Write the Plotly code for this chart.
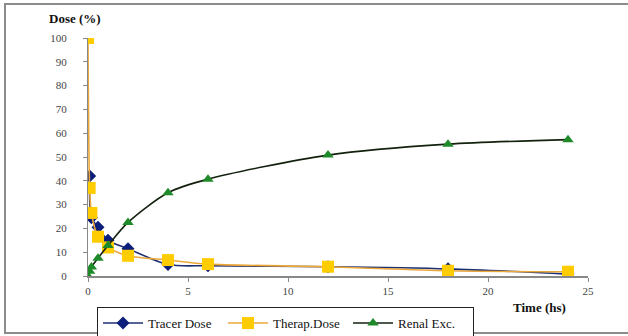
import plotly.graph_objects as go

# Data
time_tracer = [0.083, 0.17, 0.5, 1, 2, 4, 6, 12, 18, 24]
tracer_dose = [42, 24.5, 20.5, 15, 11.5, 4.8, 4.3, 3.9, 3.0, 0.8]

time_therap = [0, 0.083, 0.17, 0.5, 1, 2, 4, 6, 12, 18, 24]
therap_dose = [100, 37, 26.5, 16.5, 12, 8.5, 6.7, 5, 3.9, 2.2, 1.8]

time_renal = [0, 0.083, 0.17, 0.5, 1, 2, 4, 6, 12, 18, 24]
renal_exc = [0, 2, 3.8, 7.5, 12.8, 22.5, 35, 40.7, 50.8, 55.4, 57.3]

x_ticks = [0, 5, 10, 15, 20, 25]
y_ticks = [0, 10, 20, 30, 40, 50, 60, 70, 80, 90, 100]

FONT = "Liberation Serif"

fig = go.Figure()
fig.add_trace(go.Scatter(
    x=time_tracer, y=tracer_dose, name="Tracer Dose", mode="lines+markers",
    line=dict(color="#1c2f73", width=1.6, shape="spline", smoothing=0.8),
    marker=dict(symbol="diamond", size=10, color="#0b1f7a"),
))
fig.add_trace(go.Scatter(
    x=time_therap, y=therap_dose, name="Therap.Dose", mode="lines+markers",
    line=dict(color="#eba83a", width=1.6, shape="spline", smoothing=0.8),
    marker=dict(symbol="square", size=12, color="#ffcc00"),
))
fig.add_trace(go.Scatter(
    x=time_renal, y=renal_exc, name="Renal Exc.", mode="lines+markers",
    line=dict(color="#13220f", width=1.6, shape="spline", smoothing=0.8),
    marker=dict(symbol="triangle-up", size=10, color="#1f8a2a"),
))

fig.update_layout(
    width=628, height=336,
    margin=dict(l=88, r=40, t=38, b=60, autoexpand=False),
    paper_bgcolor="white", plot_bgcolor="white",
    font=dict(family=FONT, size=11, color="#222"),
    showlegend=True,
    legend=dict(
        orientation="h", xref="container", yref="container",
        x=0.1545, y=0.086, xanchor="left", yanchor="top",
        bordercolor="#222", borderwidth=1, bgcolor="white",
        font=dict(family=FONT, size=13, color="#111"),
        entrywidth=70, itemwidth=40, tracegroupgap=0,
    ),
    xaxis=dict(
        range=[0, 25], tickvals=x_ticks, showgrid=False, zeroline=False,
        showline=True, linecolor="#888", linewidth=1.5, automargin=False,
        ticks="outside", ticklen=4, tickcolor="#888",
        tickfont=dict(family=FONT, size=11, color="#444"),
    ),
    yaxis=dict(
        range=[0, 100], tickvals=y_ticks, showgrid=False, zeroline=False,
        showline=True, linecolor="#888", linewidth=1, automargin=False,
        ticks="outside", ticklen=4, tickcolor="#888",
        ticklabelstandoff=14,
        tickfont=dict(family=FONT, size=11, color="#444"),
    ),
    shapes=[dict(
        type="rect", xref="paper", yref="paper",
        x0=-0.166, x1=1.3, y0=-0.2395, y1=1.143,
        line=dict(color="#8c8c8c", width=2), layer="below",
    )],
    annotations=[
        dict(text="<b>Dose (%)</b>", xref="paper", yref="paper",
             x=-0.026, y=1.084, xanchor="center", yanchor="middle",
             showarrow=False,
             font=dict(family=FONT, size=13, color="#111")),
        dict(text="<b>Time (hs)</b>", xref="paper", yref="paper",
             x=0.902, y=-0.134, xanchor="center", yanchor="middle",
             showarrow=False,
             font=dict(family=FONT, size=13, color="#111")),
    ],
)

fig.write_html("out.html",
               config={"displayModeBar": False},
               post_script="document.body.style.margin='0px';")
